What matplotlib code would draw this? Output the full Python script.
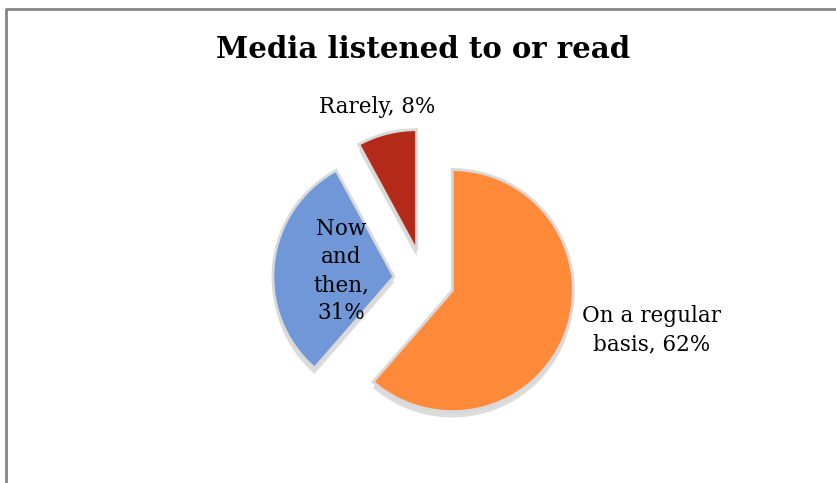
import matplotlib
matplotlib.use('Agg')
import matplotlib.pyplot as plt
import numpy as np
from matplotlib.lines import Line2D

# data
categories = ['On a regular basis', 'Now and then', 'Rarely']
shares = [62, 31, 8]
label_texts = ['On a regular\nbasis, 62%', 'Now\nand\nthen,\n31%', 'Rarely, 8%']
colors = ['#FF8A3A', '#7097D7', '#B32B18']

plt.rcParams['font.family'] = ['DejaVu Serif']

fig = plt.figure(figsize=(8.36, 4.83), dpi=100)
ax = fig.add_axes([0, 0, 1, 1])

wedges, _ = ax.pie(shares, colors=colors, startangle=90, counterclock=False,
                   explode=[0.25, 0.25, 0.25], radius=1,
                   shadow={'ox': 0.0, 'oy': -0.035, 'facecolor': '#8c8c8c',
                           'edgecolor': 'none', 'alpha': 0.3},
                   wedgeprops=dict(edgecolor='#D9D9D9', linewidth=2))

# label positions: distance from pie centre and angle shift from bisector
label_dist = [1.93, 0.69, 1.48]
label_shift = [8, 0, 1]
for w, txt, d, s in zip(wedges, label_texts, label_dist, label_shift):
    mid = np.deg2rad((w.theta1 + w.theta2) / 2 + s)
    ax.text(d * np.cos(mid), d * np.sin(mid), txt, ha='center', va='center',
            fontsize=15.5, linespacing=1.36, color='black')

ax.set_xlim(-424 / 121, (836 - 424) / 121)
ax.set_ylim(-(483 - 280) / 121, 280 / 121)
ax.set_aspect('auto')
ax.axis('off')

fig.text(0.506, 1 - 50 / 483, 'Media listened to or read', ha='center', va='center',
         fontsize=21, fontweight='bold')

# chart frame (only left and top edges are inside the picture)
x0 = 6 / 836
y0 = 1 - 9 / 483
fig.lines.append(Line2D([x0, x0, 1.05], [-0.05, y0, y0], transform=fig.transFigure,
                        color='#858585', linewidth=2))

fig.savefig('out.png', dpi=100)
